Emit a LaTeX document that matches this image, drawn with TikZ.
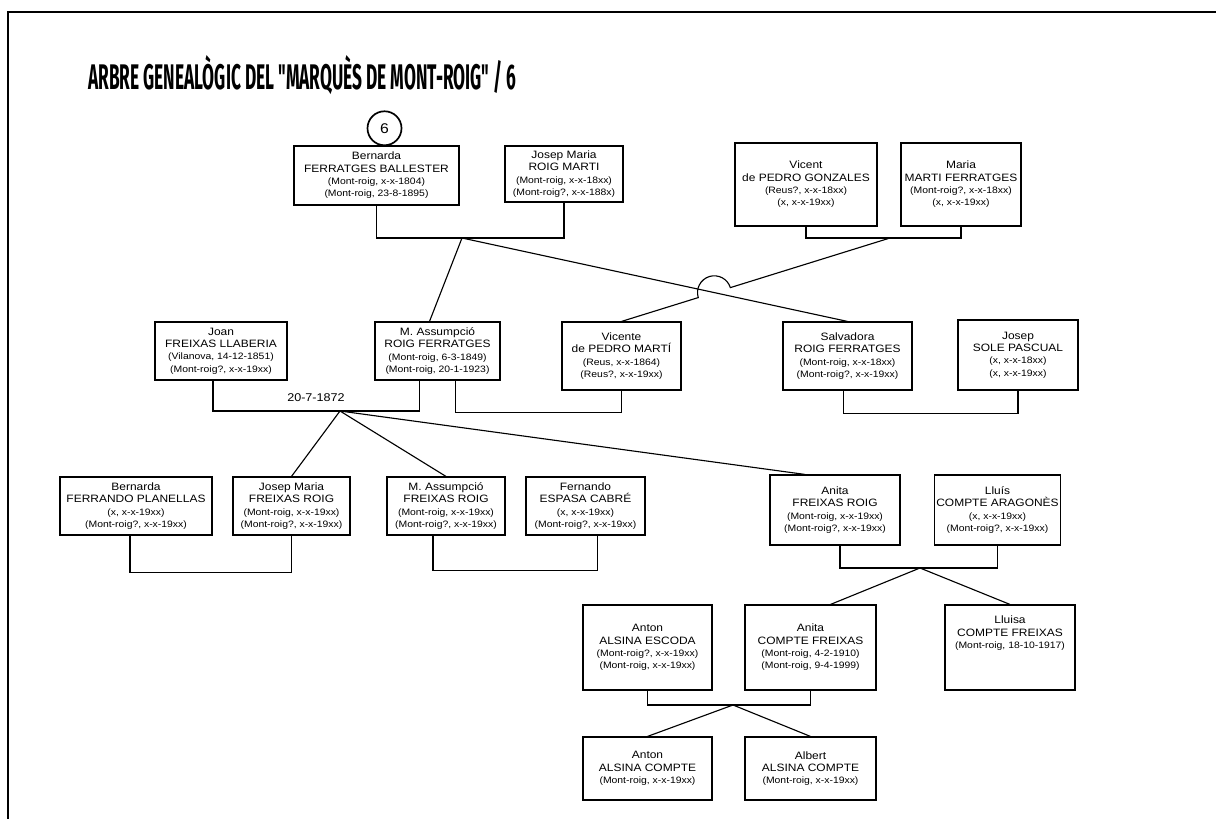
\documentclass[tikz,border=0pt]{standalone}
\usepackage{fontspec}
\setmainfont[FakeStretch=1.12]{Liberation Sans}
\newfontfamily\titlefont{Fira Sans}
\usepackage{graphicx}
\usepackage{tikz}
\usetikzlibrary{positioning,calc,intersections}
\tikzstyle{person}=[draw, rectangle, line width=0.8pt, align=center, inner sep=1pt, font=\fontsize{7.6}{8.8}\selectfont]
\tikzstyle{link}=[line width=0.8pt]
\newcommand{\dates}[1]{{\fontsize{6.6}{8}\selectfont #1}}

\begin{document}
\begin{tikzpicture}[x=0.025cm, y=-0.025cm]
\useasboundingbox (0,0) rectangle (1216,819);
\draw[line width=2pt] (1216,12) -- (8,12) -- (8,819);
\node[anchor=base west, inner sep=0pt] (title) at (88,90) {\resizebox{10.7cm}{0.85cm}{\titlefont\bfseries ARBRE GENEALÒGIC DEL "MARQUÈS DE MONT-ROIG" / 6}};
% first row
\node[person, line width=1.8pt, minimum width=4.125cm, minimum height=1.475cm] (bfb) at (376.5,175.5) {Bernarda\\FERRATGES BALLESTER\\\dates{(Mont-roig, x-x-1804)}\\\dates{(Mont-roig, 23-8-1895)}};
\node[person, minimum width=2.95cm, minimum height=1.4cm] (jrm) at (564,174) {Josep Maria\\ROIG MARTI\\\dates{(Mont-roig, x-x-18xx)}\\\dates{(Mont-roig?, x-x-188x)}};
\node[person, minimum width=3.55cm, minimum height=2.075cm] (vpg) at (806,184.5) {Vicent\\de PEDRO GONZALES\\\dates{(Reus?, x-x-18xx)}\\\dates{(x, x-x-19xx)}};
\node[person, minimum width=3cm, minimum height=2.075cm] (mmf) at (961,184.5) {Maria\\MARTI FERRATGES\\\dates{(Mont-roig?, x-x-18xx)}\\\dates{(x, x-x-19xx)}};
\node[draw, circle, line width=1.2pt, minimum size=0.85cm, inner sep=0pt, font=\fontsize{10}{12}\selectfont, anchor=south] (n6) at ([xshift=0.2cm, yshift=-1pt]bfb.north) {6};
% second row
\node[person, minimum width=3.3cm, minimum height=1.45cm] (jfl) at (221,351) {Joan\\FREIXAS LLABERIA\\\dates{(Vilanova, 14-12-1851)}\\\dates{(Mont-roig?, x-x-19xx)}};
\node[person, minimum width=3.125cm, minimum height=1.45cm] (arf) at (437.5,351) {M. Assumpció\\ROIG FERRATGES\\\dates{(Mont-roig, 6-3-1849)}\\\dates{(Mont-roig, 20-1-1923)}};
\node[person, minimum width=2.975cm, minimum height=1.7cm] (vpm) at (621.5,356) {Vicente\\de PEDRO MARTÍ\\\dates{(Reus, x-x-1864)}\\\dates{(Reus?, x-x-19xx)}};
\node[person, minimum width=3.225cm, minimum height=1.7cm] (srf) at (847.5,356) {Salvadora\\ROIG FERRATGES\\\dates{(Mont-roig, x-x-18xx)}\\\dates{(Mont-roig?, x-x-19xx)}};
\node[person, minimum width=3cm, minimum height=1.75cm] (jsp) at (1018,355) {Josep\\SOLE PASCUAL\\\dates{(x, x-x-18xx)}\\\dates{(x, x-x-19xx)}};
\node[font=\fontsize{8}{10}\selectfont] (wed) at (316,398) {20-7-1872};
% third row
\node[person, minimum width=3.8cm, minimum height=1.45cm] (bfp) at (136,506) {Bernarda\\FERRANDO PLANELLAS\\\dates{(x, x-x-19xx)}\\\dates{(Mont-roig?, x-x-19xx)}};
\node[person, minimum width=2.925cm, minimum height=1.45cm] (jfr) at (291.5,506) {Josep Maria\\FREIXAS ROIG\\\dates{(Mont-roig, x-x-19xx)}\\\dates{(Mont-roig?, x-x-19xx)}};
\node[person, minimum width=2.95cm, minimum height=1.45cm] (afr) at (446,506) {M. Assumpció\\FREIXAS ROIG\\\dates{(Mont-roig, x-x-19xx)}\\\dates{(Mont-roig?, x-x-19xx)}};
\node[person, minimum width=2.975cm, minimum height=1.45cm] (fec) at (585.5,506) {Fernando\\ESPASA CABRÉ\\\dates{(x, x-x-19xx)}\\\dates{(Mont-roig?, x-x-19xx)}};
\node[person, minimum width=3.25cm, minimum height=1.75cm] (anfr) at (835,510) {Anita\\FREIXAS ROIG\\\dates{(Mont-roig, x-x-19xx)}\\\dates{(Mont-roig?, x-x-19xx)}};
\node[person, minimum width=3.125cm, minimum height=1.75cm] (lca) at (997.5,510) {Lluís\\COMPTE ARAGONÈS\\\dates{(x, x-x-19xx)}\\\dates{(Mont-roig?, x-x-19xx)}};
% fourth row
\node[person, minimum width=3.225cm, minimum height=2.125cm] (aae) at (647.5,647.5) {Anton\\ALSINA ESCODA\\\dates{(Mont-roig?, x-x-19xx)}\\\dates{(Mont-roig, x-x-19xx)}};
\node[person, minimum width=3.275cm, minimum height=2.125cm] (acf) at (810.5,647.5) {Anita\\COMPTE FREIXAS\\\dates{(Mont-roig, 4-2-1910)}\\\dates{(Mont-roig, 9-4-1999)}};
\node[person, minimum width=3.25cm, minimum height=2.125cm, text depth=0.75cm] (lcf) at (1010,647.5) {Lluisa\\COMPTE FREIXAS\\\dates{(Mont-roig, 18-10-1917)}};
% fifth row
\node[person, minimum width=3.225cm, minimum height=1.575cm] (aac) at (647.5,768.5) {Anton\\ALSINA COMPTE\\\dates{(Mont-roig, x-x-19xx)}};
\node[person, minimum width=3.275cm, minimum height=1.575cm] (albc) at (810.5,768.5) {Albert\\ALSINA COMPTE\\\dates{(Mont-roig, x-x-19xx)}};

\coordinate (m1) at (462,238);
\coordinate (m2) at (890,238);
\coordinate (m3) at (340,411);
\coordinate (m4) at (920,568);
\coordinate (m5) at (733,705);
\draw[link] (bfb.south) |- (m1) -| (jrm.south);
\draw[link] (vpg.south) |- (m2) -| (mmf.south);
\draw[link] (m1) -- ([xshift=-0.2cm]arf.north);
\draw[link, name path=la] (m1) -- (srf.north);
\path[name path=lb] (m2) -- (vpm.north);
\path[name intersections={of=la and lb, by=x1}];
\draw[link] let \p1=($(m2)-(x1)$), \n1={atan2(\y1,\x1)} in
  (m2) -- ($(x1)!0.42cm!(m2)$) arc[start angle=\n1, delta angle=180, radius=0.42cm] -- (vpm.north);
\draw[link] ([xshift=-0.2cm]jfl.south) |- (m3) -| ([xshift=-0.44cm]arf.south);
\draw[link] ([xshift=0.45cm]arf.south) -- ++(0,32) -| (vpm.south);
\draw[link] ([xshift=-0.1cm]srf.south) -- ++(0,23) -| (jsp.south);
\draw[link] (m3) -- (jfr.north);
\draw[link] (m3) -- (afr.north);
\draw[link] (m3) -- ([xshift=-0.75cm]anfr.north);
\draw[link] ([xshift=-0.15cm]bfp.south) -- ++(0,37) -| (jfr.south);
\draw[link] ([xshift=-0.325cm]afr.south) -- ++(0,35) -| ([xshift=0.29cm]fec.south);
\draw[link] ([xshift=0.125cm]anfr.south) |- (m4) -| (lca.south);
\draw[link] (m4) -- ([xshift=0.5cm]acf.north);
\draw[link] (m4) -- (lcf.north);
\draw[link] (aae.south) |- (m5) -| (acf.south);
\draw[link] (m5) -- (aac.north);
\draw[link] (m5) -- (albc.north);
\end{tikzpicture}
\end{document}
